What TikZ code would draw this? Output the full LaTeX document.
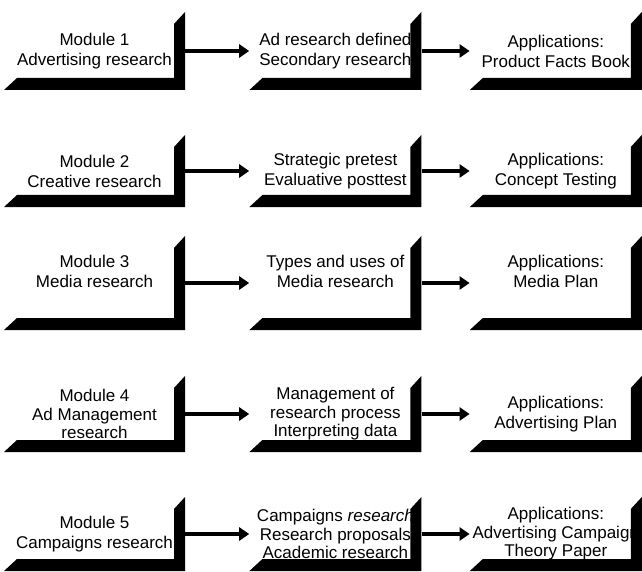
\documentclass[tikz,border=0pt]{standalone}
\usepackage{fontspec}
\setmainfont{Liberation Sans}
\usetikzlibrary{positioning, arrows.meta}

\begin{document}
\begin{tikzpicture}[x=1pt,y=-1pt,
    every node/.style={font=\fontsize{17}{20}\selectfont},
    modframe/.style={rectangle, inner sep=0pt, align=center,
      minimum width=172pt, minimum height=#1,
      path picture={\fill (path picture bounding box.south west) -- ++(13pt,12pt)
        -- ([shift={(-11pt,12pt)}]path picture bounding box.south east)
        -- ([shift={(-11pt,-12pt)}]path picture bounding box.north east)
        -- (path picture bounding box.north east)
        -- (path picture bounding box.south east) -- cycle;}},
    wide/.style={minimum width=181pt},
    tight/.style={font=\fontsize{17}{18.5}\selectfont},
    raised/.style={text depth=24pt},
    link/.style={-{Triangle[length=10pt,width=13pt]}, line width=4pt}]
  \fill[white] (0,0) rectangle (642,572);
  \useasboundingbox (0,0) rectangle (642,572);

  % row 1
  \node[modframe=78pt, wide] (m1) at (94.5,51) {Module 1\\Advertising research};
  \node[modframe=78pt, right=64pt of m1] (d1) {Ad research defined\\Secondary research};
  \node[modframe=78pt, right=48pt of d1] (a1) {Applications:\\Product Facts Book};

  % row 2
  \node[modframe=72pt, wide] (m2) at (94.5,171) {Module 2\\Creative research};
  \node[modframe=72pt, right=64pt of m2] (d2) {Strategic pretest\\Evaluative posttest};
  \node[modframe=72pt, right=48pt of d2] (a2) {Applications:\\Concept Testing};

  % row 3
  \node[modframe=94pt, wide, raised] (m3) at (94.5,283) {Module 3\\Media research};
  \node[modframe=94pt, raised, right=64pt of m3] (d3) {Types and uses of\\Media research};
  \node[modframe=94pt, raised, right=48pt of d3] (a3) {Applications:\\Media Plan};

  % row 4
  \node[modframe=76pt, wide, tight] (m4) at (94.5,414) {Module 4\\Ad Management\\research};
  \node[modframe=76pt, tight, right=64pt of m4] (d4) {Management of\\research process\\Interpreting data};
  \node[modframe=76pt, right=48pt of d4] (a4) {Applications:\\Advertising Plan};

  % row 5
  \node[modframe=74pt, wide] (m5) at (94.5,534) {Module 5\\Campaigns research};
  \node[modframe=74pt, tight, right=64pt of m5] (d5) {Campaigns \textit{research}\\Research proposals\\Academic research};
  \node[modframe=74pt, tight, right=48pt of d5] (a5) {Applications:\\Advertising Campaign\\Theory Paper};

  \foreach \r in {1,...,5} {
    \draw[link] (m\r) -- (d\r);
    \draw[link] (d\r) -- (a\r);
  }
\end{tikzpicture}
\end{document}
